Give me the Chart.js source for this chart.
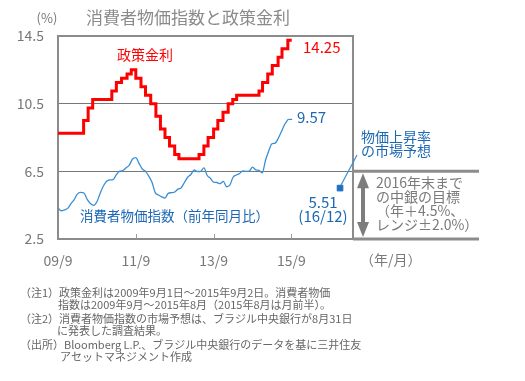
<!DOCTYPE html>
<html>
<head>
<meta charset="utf-8">
<script src="https://cdn.jsdelivr.net/npm/chart.js@4"></script>
<style>
  body { margin: 0; background: #fff; }
  canvas { display: block; }
</style>
</head>
<body>
<canvas id="myChart" width="525" height="381"></canvas>
<script>
// months counted from 2009/9 (= 0)
const rateMonths = [0, 7.9, 9.3, 10.7, 16.6, 18.0, 19.6, 21.3, 22.6, 24.0, 25.6, 27.0, 28.6, 30.2, 31.6, 33.0, 34.4, 36.0, 37.3,
  43.5, 45.0, 46.3, 48.0, 49.3, 50.9, 52.5, 53.9, 55.1, 62.0, 63.1, 64.7, 66.1, 67.9, 69.1, 70.9, 72.1];
const rateValues = [8.75, 9.5, 10.25, 10.75, 11.25, 11.75, 12.0, 12.25, 12.5, 12.0, 11.5, 11.0, 10.5, 9.75, 9.0, 8.5, 8.0, 7.5, 7.25,
  7.5, 8.0, 8.5, 9.0, 9.5, 10.0, 10.5, 10.75, 11.0, 11.25, 11.75, 12.25, 12.75, 13.25, 13.75, 14.25, 14.25];

// CPI y/y, monthly 2009/9 .. 2015/8
const cpiValues = [
  4.34, 4.17, 4.22, 4.31,
  4.59, 4.83, 5.17, 5.26, 5.22, 4.84, 4.60, 4.49, 4.70, 5.20, 5.63, 5.91,
  5.99, 6.01, 6.30, 6.51, 6.55, 6.71, 6.87, 7.23, 7.31, 6.97, 6.64, 6.50,
  6.22, 5.85, 5.24, 5.10, 4.99, 4.92, 5.20, 5.24, 5.28, 5.45, 5.53, 5.84,
  6.15, 6.31, 6.59, 6.49, 6.50, 6.70, 6.27, 6.09, 5.86, 5.84, 5.77, 5.91,
  5.59, 5.68, 6.15, 6.28, 6.37, 6.52, 6.50, 6.51, 6.75, 6.59, 6.56, 6.41,
  7.14, 7.70, 8.13, 8.17, 8.47, 8.89, 9.30, 9.57
];

const forecastMonth = [87];   // 2016/12
const forecastValue = [5.51];

const xTickValues = [0, 24, 48, 72];
const xTickLabels = ['09/9', '11/9', '13/9', '15/9'];
const yTickValues = [2.5, 6.5, 10.5, 14.5];

const FONT = '"Noto Sans CJK JP", "Noto Sans", sans-serif';
const BLUE_TXT = '#1c68b4';
const GRAY_TXT = '#7a7a7a';

const ctx = document.getElementById('myChart');

const overlay = {
  id: 'overlay',
  beforeDatasetsDraw(chart) {
    const c = chart.ctx, a = chart.chartArea;
    const x = chart.scales.x, y = chart.scales.y;
    c.save();
    // frame
    c.strokeStyle = '#8c8c8c';
    c.lineWidth = 2;
    c.strokeRect(a.left, a.top, a.right - a.left, a.bottom - a.top);
    // inward x ticks
    c.strokeStyle = '#999';
    c.lineWidth = 1;
    xTickValues.slice(1).forEach(v => {
      const px = Math.round(x.getPixelForValue(v)) + 0.5;
      c.beginPath(); c.moveTo(px, a.bottom); c.lineTo(px, a.bottom - 5); c.stroke();
    });
    // target band lines outside the plot
    c.strokeStyle = '#8c8c8c';
    c.lineWidth = 3;
    [6.5, 2.5].forEach(v => {
      const py = y.getPixelForValue(v);
      c.beginPath(); c.moveTo(a.right, py); c.lineTo(479, py); c.stroke();
    });
    c.restore();
  },
  afterDraw(chart) {
    const c = chart.ctx, a = chart.chartArea;
    const x = chart.scales.x, y = chart.scales.y;
    c.save();
    c.textBaseline = 'middle';
    const txt = (s, px, py, size, color, align) => {
      c.font = size + 'px ' + FONT;
      c.fillStyle = color;
      c.textAlign = align || 'left';
      c.fillText(s, px, py);
    };
    txt('消費者物価指数と政策金利', 86, 18, 17, '#8a8a8a');
    txt('(%)', 47, 18, 13, '#777', 'center');

    txt('政策金利', 145, 55, 14, '#ff0000', 'center');
    txt('14.25', 303, 47, 15, '#ff0000');

    // CPI end label with small hook
    const ex = x.getPixelForValue(cpiValues.length - 1);
    const ey = y.getPixelForValue(cpiValues[cpiValues.length - 1]);
    c.strokeStyle = '#3a8fd4'; c.lineWidth = 1.2;
    c.beginPath(); c.moveTo(ex, ey); c.lineTo(ex + 4, ey); c.stroke();
    txt('9.57', 297, 117, 15, BLUE_TXT);
    txt('消費者物価指数（前年同月比）', 80, 216, 13.5, BLUE_TXT);

    // forecast labels and leader
    const fx = x.getPixelForValue(forecastMonth[0]);
    const fy = y.getPixelForValue(forecastValue[0]);
    c.beginPath(); c.moveTo(fx + 1, fy - 3); c.lineTo(fx + 17, fy - 33); c.stroke();
    txt('5.51', 323, 202, 15, BLUE_TXT, 'center');
    txt('(16/12)', 323, 216, 15, BLUE_TXT, 'center');
    txt('物価上昇率', 361, 137, 14, BLUE_TXT);
    txt('の市場予想', 361, 151, 14, BLUE_TXT);

    // target range arrow
    const top = y.getPixelForValue(6.5) + 2, bot = y.getPixelForValue(2.5) - 2, ax = 363;
    c.fillStyle = '#7d7d7d';
    c.fillRect(ax - 2, top + 12, 4, bot - top - 24);
    c.beginPath(); c.moveTo(ax, top); c.lineTo(ax - 6, top + 15); c.lineTo(ax + 6, top + 15); c.closePath(); c.fill();
    c.beginPath(); c.moveTo(ax, bot); c.lineTo(ax - 6, bot - 15); c.lineTo(ax + 6, bot - 15); c.closePath(); c.fill();

    txt('2016年末まで', 376, 183, 14, GRAY_TXT);
    txt('の中銀の目標', 376, 197, 14, GRAY_TXT);
    txt('（年＋4.5%、', 376, 211, 14, GRAY_TXT);
    txt('レンジ±2.0%）', 376, 225, 14, GRAY_TXT);

    txt('（年/月）', 360, 260, 14, GRAY_TXT);

    const notes = [
      ['（注1）政策金利は2009年9月1日～2015年9月2日。消費者物価', 20, 293],
      ['指数は2009年9月～2015年8月（2015年8月は月前半）。', 58, 305],
      ['（注2）消費者物価指数の市場予想は、ブラジル中央銀行が8月31日', 20, 319],
      ['に発表した調査結果。', 57, 331],
      ['（出所）Bloomberg L.P.、ブラジル中央銀行のデータを基に三井住友', 20, 345],
      ['アセットマネジメント作成', 60, 357]
    ];
    notes.forEach(n => txt(n[0], n[1], n[2], 11, '#666'));
    c.restore();
  }
};

new Chart(ctx, {
  type: 'line',
  data: {
    datasets: [
      {
        label: '政策金利',
        data: rateMonths.map((m, i) => ({ x: m, y: rateValues[i] })),
        borderColor: '#ff0000',
        borderWidth: 3,
        stepped: true,
        pointRadius: 0
      },
      {
        label: '消費者物価指数',
        data: cpiValues.map((v, i) => ({ x: i, y: v })),
        borderColor: '#3a8fd4',
        borderWidth: 1.3,
        cubicInterpolationMode: 'monotone',
        pointRadius: 0
      },
      {
        label: '市場予想',
        data: forecastMonth.map((m, i) => ({ x: m, y: forecastValue[i] })),
        showLine: false,
        pointStyle: 'rect',
        pointRadius: 4,
        pointBackgroundColor: '#1f6fc5',
        pointBorderColor: '#1f6fc5'
      }
    ]
  },
  options: {
    responsive: false,
    animation: false,
    events: [],
    layout: { padding: { left: 0, top: 36, right: 172, bottom: 0 } },
    scales: {
      x: {
        type: 'linear',
        min: 0,
        max: 91,
        afterFit: s => { s.height = 142; },
        afterBuildTicks: s => { s.ticks = xTickValues.map(v => ({ value: v })); },
        grid: { display: false, drawTicks: false },
        border: { display: false },
        ticks: {
          padding: 13,
          maxRotation: 0,
          autoSkip: false,
          color: '#777',
          font: { family: FONT, size: 14 },
          callback: v => xTickLabels[xTickValues.indexOf(v)]
        }
      },
      y: {
        min: 2.5,
        max: 14.5,
        afterFit: s => { s.width = 58; },
        afterBuildTicks: s => { s.ticks = yTickValues.map(v => ({ value: v })); },
        grid: { color: '#777', lineWidth: 1, drawTicks: false },
        border: { display: false },
        ticks: {
          padding: 14,
          color: '#777',
          font: { family: FONT, size: 14 },
          callback: v => v.toFixed(1)
        }
      }
    },
    plugins: {
      legend: { display: false },
      tooltip: { enabled: false }
    }
  },
  plugins: [overlay]
});
</script>
</body>
</html>
